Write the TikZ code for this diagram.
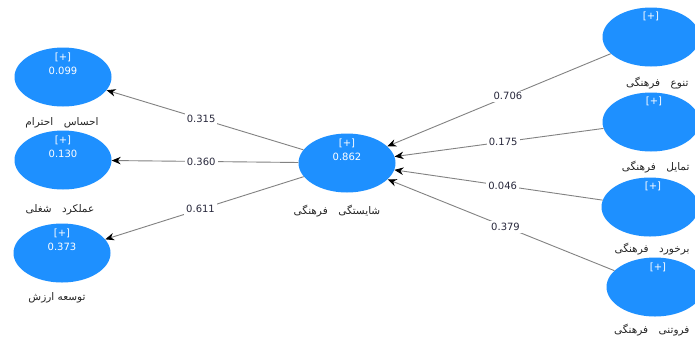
\documentclass[tikz,border=0pt]{standalone}
\usepackage{fontspec}
\setmainfont{DejaVu Sans}
\newfontfamily\arabicfont[Script=Arabic]{DejaVu Sans}
\TeXXeTstate=1
\usetikzlibrary{arrows.meta,shapes.geometric}
\definecolor{lvblue}{RGB}{30,144,255}
\definecolor{pathgray}{RGB}{130,130,130}
\definecolor{labtext}{RGB}{40,40,60}
\tikzset{
  lv/.style={ellipse, fill=lvblue, minimum width=97pt, minimum height=59pt, inner sep=0pt},
  lvtext/.style={text=white, font=\fontsize{10}{12}\selectfont, align=center},
  lvname/.style={font=\arabicfont\fontsize{10.5}{12}\selectfont, text=black!85},
  rname/.style={lvname, anchor=east},
  path/.style={draw=pathgray, line width=0.9pt, -{Stealth[length=9pt,width=7.5pt,black]}},
  coef/.style={fill=white, inner sep=2pt, text=labtext, font=\fontsize{10}{12}\selectfont}
}
\begin{document}
\begin{tikzpicture}[x=1pt,y=-1pt]
\useasboundingbox (0,0) rectangle (695,341);
\clip (0,0) rectangle (695,341);
\fill[white] (0,0) rectangle (695,341);

% latent variables
\node[lv] (resp) at (63,77) {};
\node[lv] (perf) at (63,160) {};
\node[lv] (valu) at (62,253) {};
\node[lv] (comp) at (347,163) {};
\node[lv] (divr) at (651,37) {};
\node[lv] (desr) at (651,122) {};
\node[lv] (encr) at (650,207) {};
\node[lv] (humr) at (655,287) {};

% contents of the ellipses
\node[lvtext] at (63,64) {[+]\\[2pt]0.099};
\node[lvtext] at (63,147) {[+]\\[2pt]0.130};
\node[lvtext] at (62,240) {[+]\\[2pt]0.373};
\node[lvtext] at (347,150) {[+]\\[2pt]0.862};
\node[lvtext] at (651,16) {[+]};
\node[lvtext] at (654,101) {[+]};
\node[lvtext] at (653,186) {[+]};
\node[lvtext] at (658,267) {[+]};

% names of the variables
\node[lvname] at (62,123) {\beginR احساس\quad احترام\endR};
\node[lvname] at (60,210) {\beginR عملکرد\quad شغلی\endR};
\node[lvname] at (57,298) {\beginR توسعه ارزش\endR};
\node[lvname] at (337,211) {\beginR شایستگی\quad فرهنگی\endR};
\node[rname] at (692,83) {\beginR تنوع\quad فرهنگی\endR};
\node[rname] at (693,167) {\beginR تمایل\quad فرهنگی\endR};
\node[rname] at (693,249) {\beginR برخورد\quad فرهنگی\endR};
\node[rname] at (693,330) {\beginR فروتنی\quad فرهنگی\endR};

% paths from the central construct
\draw[path] (comp) -- node[coef, pos=0.52] {0.315} (resp);
\draw[path] (comp) -- node[coef, pos=0.52] {0.360} (perf);
\draw[path] (comp) -- node[coef, pos=0.52] {0.611} (valu);

% paths into the central construct
\draw[path] (divr) -- node[coef, pos=0.46] {0.706} (comp);
\draw[path] (desr) -- node[coef, pos=0.48] {0.175} (comp);
\draw[path] (encr) -- node[coef, pos=0.48] {0.046} (comp);
\draw[path] (humr) -- node[coef, pos=0.48] {0.379} (comp);
\end{tikzpicture}
\end{document}
